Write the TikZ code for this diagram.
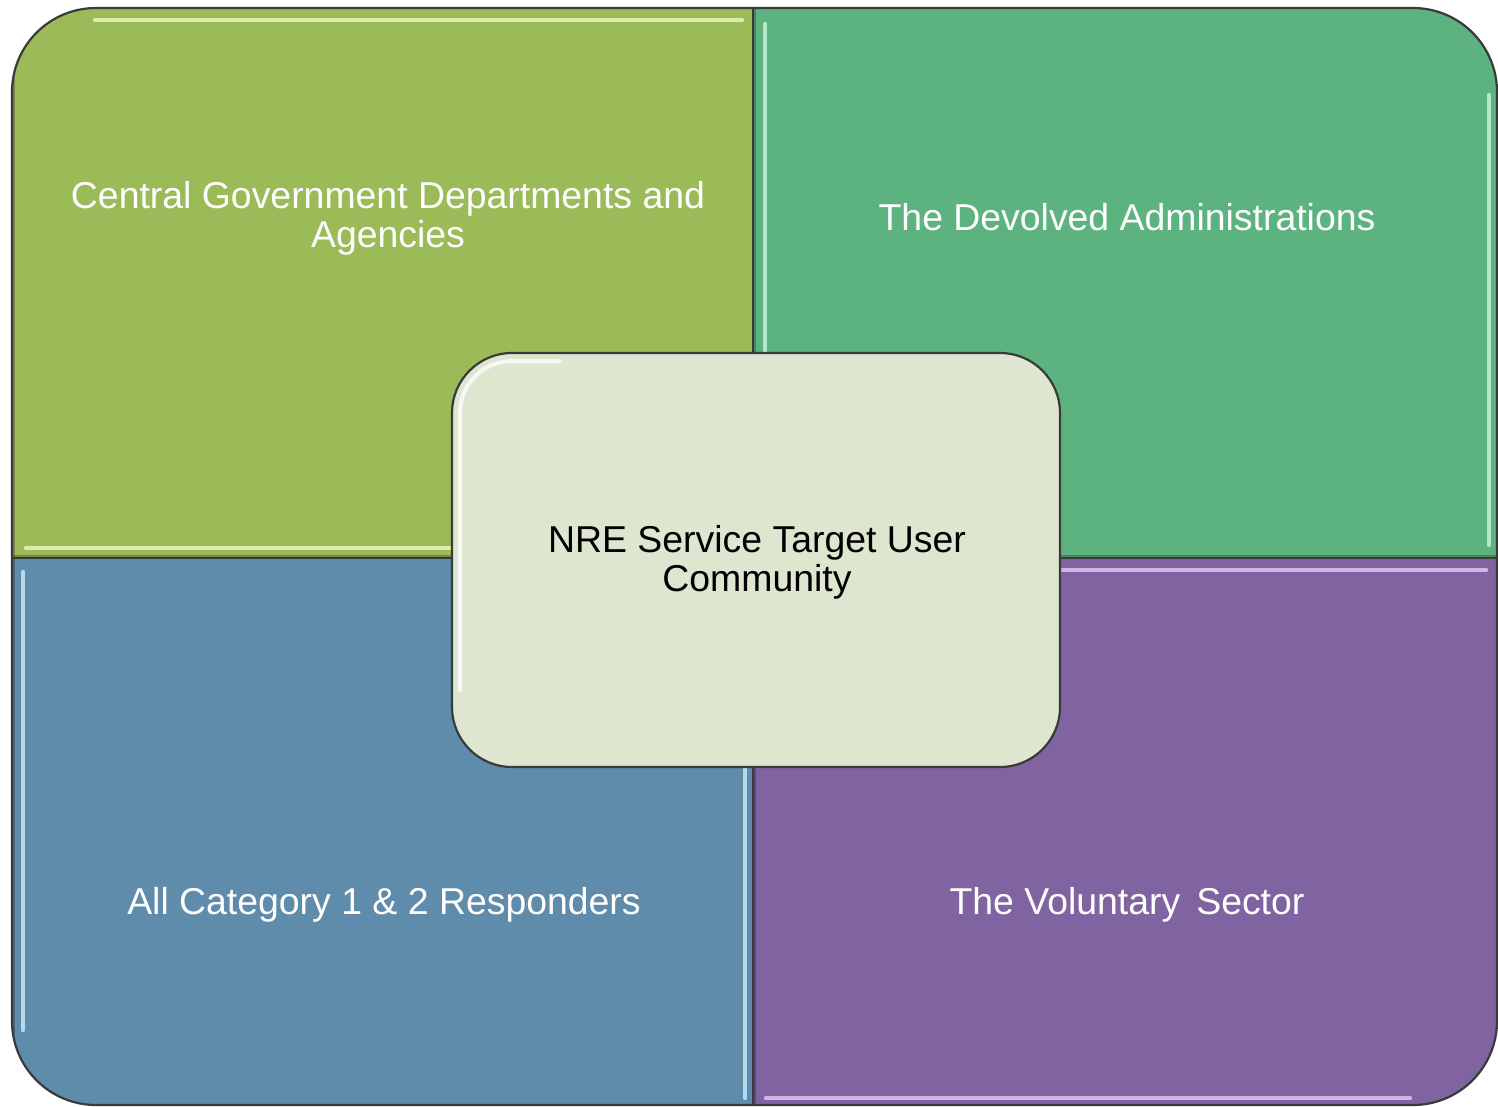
\documentclass[tikz,border=0pt]{standalone}
\usepackage{fontspec}
\setmainfont{Liberation Sans}
\definecolor{cgreen}{HTML}{9BBB59}
\definecolor{cteal}{HTML}{5DB37F}
\definecolor{cblue}{HTML}{5F8CAB}
\definecolor{cpurple}{HTML}{8064A2}
\definecolor{ccentre}{HTML}{DEE6D0}
\definecolor{cedge}{HTML}{3A3A3A}
\definecolor{hlgreen}{HTML}{EEF8C0}
\definecolor{hlteal}{HTML}{C8F4DA}
\definecolor{hlblue}{HTML}{CDEEFA}
\definecolor{hlpurple}{HTML}{E2CCF4}
\tikzset{
  quadtext/.style={text=white, align=center, font=\fontsize{18.7}{19.6}\selectfont, inner sep=0pt},
  centretext/.style={text=black, align=center, font=\fontsize{18.7}{19.6}\selectfont},
  hl/.style={line width=2.2pt, line cap=round, opacity=0.8},
  shade/.style={line width=1.2pt, opacity=0.25, black},
  border/.style={draw=cedge, line width=1.1pt}
}
\begin{document}
\begin{tikzpicture}[x=0.5pt,y=-0.5pt]
\useasboundingbox (0,0) rectangle (1498,1107);
\begin{scope}
  \clip[rounded corners=42pt] (12,8) rectangle (1497,1105);
  \fill[cgreen] (12,8) rectangle (753,558);
  \fill[cteal] (753,8) rectangle (1497,558);
  \fill[cblue] (12,558) rectangle (753,1105);
  \fill[cpurple] (753,558) rectangle (1497,1105);
  % bevel highlights
  \draw[hl, hlgreen] (95,20) -- (742,20);
  \draw[hl, hlgreen] (26,548) -- (743,548);
  \draw[hl, hlteal] (765,24) -- (765,548);
  \draw[hl, hlteal] (1489,95) -- (1489,545);
  \draw[hl, hlblue] (23,572) -- (23,1030);
  \draw[hl, hlblue] (745,565) -- (745,1098);
  \draw[hl, hlpurple] (766,570) -- (1486,570);
  \draw[hl, hlpurple] (766,1098) -- (1410,1098);
  % faint inner shading
  \draw[shade] (14,10) -- (14,1103);
  \draw[shade] (12,556) -- (1497,556);
  \draw[shade] (755,8) -- (755,1105);
\end{scope}
\draw[cedge, line width=1pt] (753,8) -- (753,1105);
\draw[cedge, line width=1pt] (12,558) -- (1497,558);
\draw[border, rounded corners=42pt] (12,8) rectangle (1497,1105);

\node[quadtext] (tl) at (388,218) {Central Government Departments and\\Agencies};
\node[quadtext] (tr) at (1127,217) {The Devolved Administrations};
\node[quadtext] (bl) at (384,905) {All Category 1 \& 2 Responders};
\node[quadtext] (br) at (1127,905) {The Voluntary\hspace{0.15em} Sector};

\node[draw=cedge, line width=1.1pt, fill=ccentre, rounded corners=30pt,
      minimum width=304pt, minimum height=207pt] (c) at (756,560) {};
\draw[white, line width=2pt, opacity=0.75, line cap=round, rounded corners=26pt]
  (460,690) -- (460,361) -- (560,361);
\node[centretext] (ct) at (757,562) {NRE Service Target User\\Community};
\end{tikzpicture}
\end{document}
